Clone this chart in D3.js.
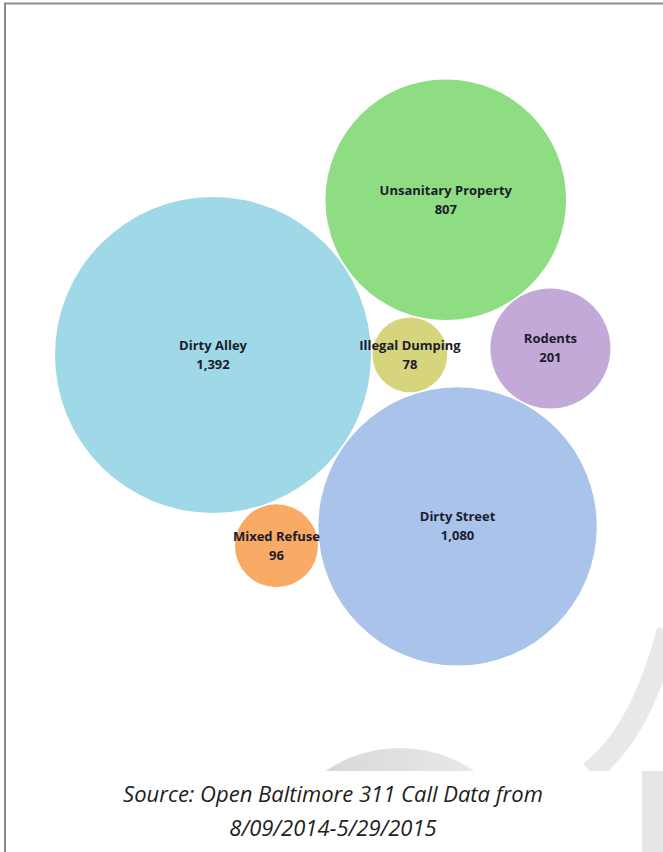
<!DOCTYPE html>
<html>
<head>
<meta charset="utf-8">
<script src="https://cdn.jsdelivr.net/npm/d3@7"></script>
<style>
  body { margin: 0; background: #fff; }
  svg { display: block; }
  .label { font-family: "Open Sans", sans-serif; font-weight: 700; font-size: 13px; fill: #1c1c2c; }
  .source { font-family: "Open Sans", sans-serif; font-style: italic; font-size: 22px; fill: #1e1e1e; }
</style>
</head>
<body>
<svg id="chart" width="663" height="852"></svg>
<script>
// 311 call counts by category
const categories = ["Dirty Alley", "Unsanitary Property", "Illegal Dumping", "Dirty Street", "Rodents", "Mixed Refuse"];
const counts = [1392, 807, 78, 1080, 201, 96];
const colors = ["#9fd9e7", "#8fdd82", "#d7d47e", "#a9c3ea", "#c3a9d7", "#f9aa65"];

// packing: each bubble touches the listed neighbours (-1 / +1 picks the side)
const touches = [[], [0], [0, 1], [0, 2], [1, 3], [0, 3]];
const sides = [0, 0, 1, 1, -1, 1];

const sourceLines = ["Source: Open Baltimore 311 Call Data from", "8/09/2014-5/29/2015"];

const svg = d3.select("#chart");
const width = +svg.attr("width");
const height = +svg.attr("height");

const r = d3.scaleSqrt().domain([0, d3.max(counts)]).range([0, 158]);
const fmt = d3.format(",");
const gap = 1.5;

// faint background shapes behind the chart
const defs = svg.append("defs");
const grad = defs.append("linearGradient").attr("id", "grey").attr("x1", 0).attr("y1", 0).attr("x2", 1).attr("y2", 0);
grad.append("stop").attr("offset", "0%").attr("stop-color", "#d2d2d2");
grad.append("stop").attr("offset", "100%").attr("stop-color", "#eeeeee");
defs.append("clipPath").attr("id", "clipTop")
    .append("rect").attr("x", 0).attr("y", 0).attr("width", width).attr("height", 771);

const bg = svg.append("g");
bg.append("circle")
    .attr("cx", 400).attr("cy", 880).attr("r", 132)
    .attr("fill", "url(#grey)")
    .attr("clip-path", "url(#clipTop)");
bg.append("path")
    .attr("d", "M590,772 Q640,735 668,630")
    .attr("fill", "none")
    .attr("stroke", "#e8e8e8")
    .attr("stroke-width", 22)
    .attr("clip-path", "url(#clipTop)");
bg.append("rect")
    .attr("x", 642).attr("y", 771).attr("width", 21).attr("height", 81)
    .attr("fill", "#e6e6e6");

// place bubbles
const nodes = categories.map((c, i) => ({ name: c, value: counts[i], r: r(counts[i]), color: colors[i] }));

function tangentTo(a, b, rad, side) {
    const da = a.r + rad + gap;
    const db = b.r + rad + gap;
    const dx = b.x - a.x, dy = b.y - a.y;
    const d = Math.hypot(dx, dy);
    const ux = dx / d, uy = dy / d;
    const x = (da * da - db * db + d * d) / (2 * d);
    const h = Math.sqrt(Math.max(0, da * da - x * x));
    return { x: a.x + x * ux - side * h * uy, y: a.y + x * uy + side * h * ux };
}

nodes.forEach((n, i) => {
    const t = touches[i];
    if (t.length === 0) {
        n.x = 213; n.y = 355;
    } else if (t.length === 1) {
        const a = nodes[t[0]];
        const ang = -33.7 * Math.PI / 180;
        n.x = a.x + (a.r + n.r + gap) * Math.cos(ang);
        n.y = a.y + (a.r + n.r + gap) * Math.sin(ang);
    } else {
        const p = tangentTo(nodes[t[0]], nodes[t[1]], n.r, sides[i]);
        n.x = p.x; n.y = p.y;
    }
});

const bubble = svg.append("g")
    .selectAll("g")
    .data(nodes)
    .join("g")
    .attr("transform", d => "translate(" + d.x + "," + d.y + ")");

bubble.append("circle")
    .attr("r", d => d.r)
    .attr("fill", d => d.color);

bubble.append("text")
    .attr("class", "label")
    .attr("text-anchor", "middle")
    .attr("y", -5)
    .text(d => d.name);

bubble.append("text")
    .attr("class", "label")
    .attr("text-anchor", "middle")
    .attr("y", 14)
    .text(d => fmt(d.value));

// white strip for the source note
svg.append("rect")
    .attr("x", 0).attr("y", 771).attr("width", 642).attr("height", 81)
    .attr("fill", "#fff");

svg.append("g")
    .selectAll("text")
    .data(sourceLines)
    .join("text")
    .attr("class", "source")
    .attr("text-anchor", "middle")
    .attr("x", 333)
    .attr("y", (d, i) => 802 + i * 34)
    .text(d => d);

// frame (top and left)
svg.append("line").attr("x1", 4).attr("y1", 3.5).attr("x2", width).attr("y2", 3.5)
    .attr("stroke", "#8a8a8a").attr("stroke-width", 2);
svg.append("line").attr("x1", 5).attr("y1", 3).attr("x2", 5).attr("y2", height)
    .attr("stroke", "#8a8a8a").attr("stroke-width", 2);
</script>
</body>
</html>
